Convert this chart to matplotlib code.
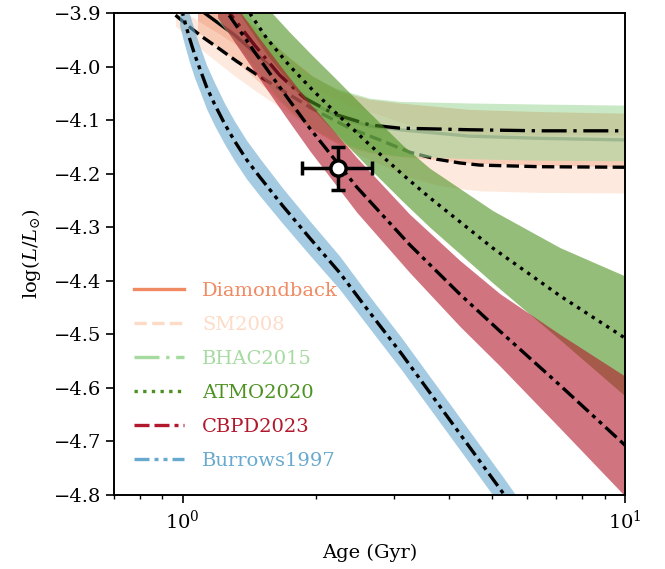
import numpy as np
import matplotlib
matplotlib.use("Agg")
import matplotlib.pyplot as plt
from matplotlib.lines import Line2D

plt.rcParams["font.family"] = "serif"
plt.rcParams["font.serif"] = ["DejaVu Serif"]
plt.rcParams["mathtext.fontset"] = "dejavuserif"
plt.rcParams["font.size"] = 14

# ---- model tracks: age (Gyr), median log(L/Lsun), lower / upper envelope ----
dmb_age = [1.081, 1.121, 1.311, 1.494, 1.747, 1.968, 2.266, 2.649, 3.097, 4.460, 6.424, 10.0]
dmb_med = [-3.891, -3.900, -3.941, -3.982, -4.033, -4.068, -4.096, -4.111, -4.118, -4.130, -4.134, -4.137]
dmb_hi = [-3.846, -3.855, -3.894, -3.934, -3.984, -4.018, -4.046, -4.061, -4.068, -4.080, -4.084, -4.087]
dmb_lo = [-3.936, -3.945, -3.988, -4.030, -4.082, -4.118, -4.146, -4.161, -4.168, -4.180, -4.184, -4.187]

sm_age = [0.964, 1.037, 1.110, 1.212, 1.325, 1.478, 1.701, 1.968, 2.387, 2.791, 3.264, 3.756, 4.234, 4.698, 6.424, 10.0]
sm_med = [-3.904, -3.926, -3.945, -3.967, -3.990, -4.016, -4.047, -4.079, -4.115, -4.137, -4.160, -4.173, -4.180, -4.184, -4.187, -4.188]
sm_hi = [-3.884, -3.904, -3.920, -3.939, -3.960, -3.984, -4.012, -4.041, -4.073, -4.090, -4.110, -4.118, -4.123, -4.126, -4.128, -4.128]
sm_lo = [-3.924, -3.948, -3.970, -3.995, -4.020, -4.048, -4.082, -4.117, -4.157, -4.182, -4.207, -4.221, -4.228, -4.232, -4.235, -4.236]

bh_age = [1.2, 1.277, 1.455, 1.658, 1.888, 2.208, 2.649, 3.097, 4.460, 6.424, 10.0]
bh_med = [-3.874, -3.900, -3.960, -4.016, -4.059, -4.089, -4.109, -4.115, -4.118, -4.120, -4.120]
bh_hi = [-3.834, -3.860, -3.918, -3.970, -4.011, -4.040, -4.059, -4.065, -4.068, -4.070, -4.072]
bh_lo = [-3.914, -3.940, -4.002, -4.062, -4.107, -4.138, -4.159, -4.167, -4.172, -4.175, -4.176]

atmo_age = [1.332, 1.418, 1.549, 1.747, 1.958, 2.185, 2.387, 2.608, 3.147, 3.622, 5.027, 7.127, 10.0]
atmo_med = [-3.866, -3.900, -3.947, -3.999, -4.042, -4.081, -4.111, -4.141, -4.202, -4.245, -4.339, -4.428, -4.507]
atmo_hi = [-3.816, -3.847, -3.889, -3.936, -3.978, -4.017, -4.049, -4.081, -4.147, -4.190, -4.269, -4.338, -4.391]
atmo_lo = [-3.896, -3.930, -3.977, -4.031, -4.077, -4.119, -4.152, -4.185, -4.252, -4.300, -4.404, -4.510, -4.615]

cb_age = [1.2, 1.264, 1.470, 1.701, 1.938, 2.476, 3.264, 4.234, 5.214, 7.127, 10.0]
cb_med = [-3.874, -3.900, -3.978, -4.051, -4.115, -4.225, -4.333, -4.425, -4.494, -4.595, -4.707]
cb_hi = [-3.839, -3.865, -3.940, -4.009, -4.068, -4.170, -4.276, -4.362, -4.424, -4.500, -4.578]
cb_lo = [-3.909, -3.935, -4.015, -4.091, -4.157, -4.272, -4.385, -4.485, -4.559, -4.675, -4.802]

bu_age = [0.9845, 1.0, 1.0158, 1.037, 1.0645, 1.093, 1.1331, 1.181, 1.245, 1.311, 1.396,
          1.494, 1.684, 1.938, 2.266, 2.581, 3.130, 4.019, 5.297, 5.786]
bu_med = [-3.878, -3.900, -3.921, -3.947, -3.977, -4.003, -4.038, -4.070, -4.107, -4.139, -4.174,
          -4.206, -4.260, -4.320, -4.385, -4.447, -4.537, -4.660, -4.796, -4.841]
bu_hi = [-3.833, -3.855, -3.876, -3.902, -3.933, -3.961, -3.997, -4.030, -4.069, -4.102, -4.138,
         -4.171, -4.227, -4.288, -4.354, -4.417, -4.507, -4.630, -4.766, -4.811]
bu_lo = [-3.923, -3.945, -3.966, -3.992, -4.021, -4.045, -4.079, -4.110, -4.145, -4.176, -4.210,
         -4.241, -4.293, -4.352, -4.416, -4.477, -4.567, -4.690, -4.826, -4.871]

# ---- measured object ----
obj_age = 2.24
obj_age_err = [[0.38], [0.44]]
obj_lum = -4.19
obj_lum_err = 0.04

names = ["Diamondback", "SM2008", "BHAC2015", "ATMO2020", "CBPD2023", "Burrows1997"]
colors = ["#ef8a62", "#fddbc7", "#a6dba0", "#4d9221", "#b2182b", "#67a9cf"]
styles = ["-", (0, (3.7, 1.6)), (0, (7.5, 2, 1, 2)), (0, (1, 1.6)),
          (0, (4.5, 1.5, 4.5, 1.5, 1.2, 1.5, 1.2, 1.5)), (0, (4.5, 1.5, 1.2, 1.5, 1.2, 1.5))]
tracks = [
    (dmb_age, dmb_med, dmb_lo, dmb_hi),
    (sm_age, sm_med, sm_lo, sm_hi),
    (bh_age, bh_med, bh_lo, bh_hi),
    (atmo_age, atmo_med, atmo_lo, atmo_hi),
    (cb_age, cb_med, cb_lo, cb_hi),
    (bu_age, bu_med, bu_lo, bu_hi),
]

fig = plt.figure(figsize=(6.65, 5.69), dpi=100)
ax = fig.add_axes([114 / 665, 1 - 495 / 569, 511 / 665, 482 / 569])

# each band is drawn over the earlier models' median lines
for i, ((age, med, lo, hi), c, ls) in enumerate(zip(tracks, colors, styles)):
    ax.fill_between(age, lo, hi, color=c, alpha=0.6, lw=0, zorder=1 + 2 * i)
    ax.plot(age, med, color="black", ls=ls, lw=2.4, zorder=2 + 2 * i)

ax.errorbar(obj_age, obj_lum, xerr=obj_age_err, yerr=obj_lum_err, fmt="o",
            mfc="white", mec="black", ms=11, mew=2.5, ecolor="black",
            elinewidth=2.5, capsize=5, capthick=2.5, zorder=20)

ax.set_xscale("log")
ax.set_xlim(0.7, 10)
ax.set_ylim(-4.8, -3.9)
ax.set_yticks(np.arange(-4.8, -3.85, 0.1))
ax.set_xlabel("Age (Gyr)", labelpad=8)
ax.set_ylabel(r"$\log(L/L_{\odot})$", labelpad=8)
ax.tick_params(which="major", length=5.5, width=1.2)
ax.tick_params(which="minor", length=3, width=1)
ax.tick_params(axis="x", which="major", pad=5)
for sp in ax.spines.values():
    sp.set_linewidth(1.4)
    sp.set_zorder(30)

handles = [Line2D([], [], color=c, ls=ls, lw=2.4) for c, ls in zip(colors, styles)]
leg = ax.legend(handles, names, loc="lower left", bbox_to_anchor=(0.039, 0.052),
                frameon=False, handlelength=2.6, handletextpad=0.9,
                labelspacing=0.82, borderpad=0, borderaxespad=0)
leg.set_zorder(25)
for txt, c in zip(leg.get_texts(), colors):
    txt.set_color(c)

fig.savefig("out.png", dpi=100)
